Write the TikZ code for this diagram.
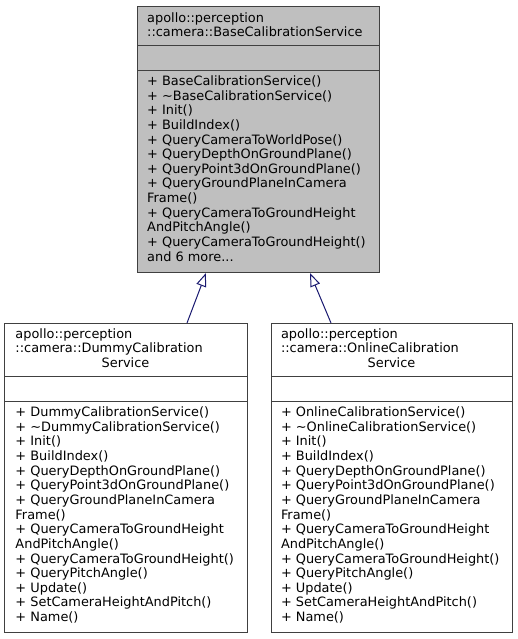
\documentclass[tikz,border=0pt]{standalone}
\usepackage{fontspec}
\setmainfont{DejaVu Sans}
\usetikzlibrary{arrows.meta,calc}
\definecolor{bordergray}{RGB}{64,64,64}
\definecolor{basefill}{RGB}{191,191,191}
\definecolor{edgeblue}{RGB}{25,25,112}
\newcommand{\andmoretext}{and 6 more...}
\tikzset{
  classbox/.style={draw=bordergray, line width=1pt, inner sep=0pt, anchor=north west},
  divider/.style={draw=bordergray, line width=1pt},
  txt/.style={inner sep=0pt, anchor=base west, font=\fontsize{12.9pt}{14.64pt}\selectfont},
  ctxt/.style={inner sep=0pt, anchor=base, font=\fontsize{12.9pt}{14.64pt}\selectfont},
  inherit/.style={draw=edgeblue, line width=1pt, -{Triangle[open,length=13.5pt,width=10pt]}}
}
\begin{document}
\begin{tikzpicture}[x=1pt,y=-1pt]
\useasboundingbox (0,0) rectangle (517,639);
\fill[white] (0,0) rectangle (517,639);

% Base class
\node[classbox, fill=basefill, minimum width=242pt, minimum height=266pt] (base) at (137,6) {};
\draw[divider] ($(base.north west)+(0,40)$) -- ($(base.north east)+(0,40)$);
\draw[divider] ($(base.north west)+(0,65)$) -- ($(base.north east)+(0,65)$);
\node[txt] (bt1) at (147,22.3) {apollo::perception};
\node[txt] (bt2) at (147,36.9) {::camera::BaseCalibrationService};
\foreach \t [count=\i] in {
  + BaseCalibrationService(),
  + \textasciitilde BaseCalibrationService(),
  + Init(),
  + BuildIndex(),
  + QueryCameraToWorldPose(),
  + QueryDepthOnGroundPlane(),
  + QueryPoint3dOnGroundPlane(),
  + QueryGroundPlaneInCamera,
  Frame(),
  + QueryCameraToGroundHeight,
  AndPitchAngle(),
  + QueryCameraToGroundHeight(),
  \andmoretext}
  \node[txt] (bm\i) at (147,{85.5+(\i-1)*14.64}) {\t};

% Dummy class
\node[classbox, fill=white, minimum width=243pt, minimum height=309pt] (dummy) at (4,323) {};
\draw[divider] ($(dummy.north west)+(0,53.5)$) -- ($(dummy.north east)+(0,53.5)$);
\draw[divider] ($(dummy.north west)+(0,78.5)$) -- ($(dummy.north east)+(0,78.5)$);
\node[txt] (dt1) at (15.3,338.2) {apollo::perception};
\node[txt] (dt2) at (15.3,352.8) {::camera::DummyCalibration};
\node[ctxt] (dt3) at (125.5,367.4) {Service};
\foreach \t [count=\i] in {
  + DummyCalibrationService(),
  + \textasciitilde DummyCalibrationService(),
  + Init(),
  + BuildIndex(),
  + QueryDepthOnGroundPlane(),
  + QueryPoint3dOnGroundPlane(),
  + QueryGroundPlaneInCamera,
  Frame(),
  + QueryCameraToGroundHeight,
  AndPitchAngle(),
  + QueryCameraToGroundHeight(),
  + QueryPitchAngle(),
  + Update(),
  + SetCameraHeightAndPitch(),
  + Name()}
  \node[txt] (dm\i) at (15.3,{416.6+(\i-1)*14.64}) {\t};

% Online class
\node[classbox, fill=white, minimum width=241pt, minimum height=309pt] (online) at (271,323) {};
\draw[divider] ($(online.north west)+(0,53.5)$) -- ($(online.north east)+(0,53.5)$);
\draw[divider] ($(online.north west)+(0,78.5)$) -- ($(online.north east)+(0,78.5)$);
\node[txt] (ot1) at (280.8,338.2) {apollo::perception};
\node[txt] (ot2) at (280.8,352.8) {::camera::OnlineCalibration};
\node[ctxt] (ot3) at (391.5,367.4) {Service};
\foreach \t [count=\i] in {
  + OnlineCalibrationService(),
  + \textasciitilde OnlineCalibrationService(),
  + Init(),
  + BuildIndex(),
  + QueryDepthOnGroundPlane(),
  + QueryPoint3dOnGroundPlane(),
  + QueryGroundPlaneInCamera,
  Frame(),
  + QueryCameraToGroundHeight,
  AndPitchAngle(),
  + QueryCameraToGroundHeight(),
  + QueryPitchAngle(),
  + Update(),
  + SetCameraHeightAndPitch(),
  + Name()}
  \node[txt] (om\i) at (280.8,{416.6+(\i-1)*14.64}) {\t};

% Inheritance edges
\coordinate (e1s) at ($(dummy.north west)+(183,0)$);
\coordinate (e1t) at ($(base.south west)+(69,0)$);
\coordinate (e2s) at ($(online.north west)+(60,0)$);
\coordinate (e2t) at ($(base.south west)+(173,0)$);
\draw[inherit] (e1s) -- (e1t);
\draw[inherit] (e2s) -- (e2t);
\end{tikzpicture}
\end{document}
